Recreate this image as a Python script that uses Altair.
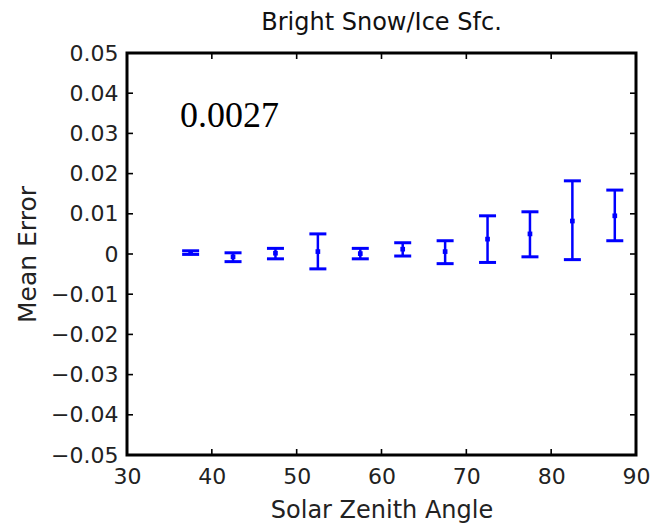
import altair as alt
import pandas as pd

# ---- data ----
sza = [37.5, 42.5, 47.5, 52.5, 57.5, 62.5, 67.5, 72.5, 77.5, 82.5, 87.5]
mean_err = [0.0003, -0.0007, 0.0002, 0.0006, 0.0001, 0.0012, 0.0006, 0.0037, 0.0050, 0.0082, 0.0095]
lower = [-0.0001, -0.0019, -0.0012, -0.0037, -0.0012, -0.0005, -0.0024, -0.0021, -0.0007, -0.0014, 0.0033]
upper = [0.0008, 0.0003, 0.0014, 0.0050, 0.0014, 0.0028, 0.0033, 0.0095, 0.0105, 0.0182, 0.0159]

x_ticks = [30, 40, 50, 60, 70, 80, 90]
y_ticks = [-0.05, -0.04, -0.03, -0.02, -0.01, 0.0, 0.01, 0.02, 0.03, 0.04, 0.05]

annot_text = ["0.0027"]
annot_x = [36.25]
annot_y = [0.0316]

W, H = 509, 402
BLUE = "#0000FF"
SANS = "DejaVu Sans"

df = pd.DataFrame({"sza": sza, "mean": mean_err, "lo": lower, "hi": upper})
xt = pd.DataFrame({"v": x_ticks})
yt = pd.DataFrame({"v": y_ticks})
ann = pd.DataFrame({"t": annot_text, "x": annot_x, "y": annot_y})

xscale = alt.Scale(domain=[30, 90], nice=False, zero=False)
yscale = alt.Scale(domain=[-0.05, 0.05], nice=False, zero=False)

xaxis = alt.Axis(values=x_ticks, format="d", ticks=False, domain=False, grid=False,
                 labelPadding=11, labelFontSize=22, labelFont=SANS, labelColor="#222",
                 title="Solar Zenith Angle", titleFontSize=24, titleFont=SANS,
                 titleFontWeight="normal", titleColor="#222", titlePadding=11,
                 labelFlush=False)
yaxis = alt.Axis(values=y_ticks, labelExpr="datum.value == 0 ? '0' : format(datum.value, '.2f')",
                 ticks=False, domain=False, grid=False,
                 labelPadding=9, labelFontSize=22, labelFont=SANS, labelColor="#222",
                 title="Mean Error", titleFontSize=25, titleFont=SANS,
                 titleFontWeight="normal", titleColor="#222", titlePadding=10,
                 labelFlush=False)

base = alt.Chart(df)

stems = base.mark_rule(color=BLUE, strokeWidth=2.5, opacity=1).encode(
    x=alt.X("sza:Q", scale=xscale, axis=xaxis),
    y=alt.Y("lo:Q", scale=yscale, axis=yaxis),
    y2="hi:Q",
)
cap_lo = base.mark_tick(color=BLUE, orient="horizontal", size=17, thickness=3, opacity=1).encode(
    x="sza:Q", y="lo:Q")
cap_hi = base.mark_tick(color=BLUE, orient="horizontal", size=17, thickness=3, opacity=1).encode(
    x="sza:Q", y="hi:Q")
pts = base.mark_square(color=BLUE, size=22, opacity=1, filled=True).encode(x="sza:Q", y="mean:Q")

TL = 6
tick_style = dict(color="black", strokeWidth=1.6, opacity=1)
yl = alt.Chart(yt).mark_rule(**tick_style).encode(y="v:Q", x=alt.value(0), x2=alt.value(TL))
yr = alt.Chart(yt).mark_rule(**tick_style).encode(y="v:Q", x=alt.value(W - TL), x2=alt.value(W))
xb = alt.Chart(xt).mark_rule(**tick_style).encode(x="v:Q", y=alt.value(H - TL), y2=alt.value(H))
xtp = alt.Chart(xt).mark_rule(**tick_style).encode(x="v:Q", y=alt.value(0), y2=alt.value(TL))

txt = alt.Chart(ann).mark_text(font="Liberation Serif", fontSize=36, align="left",
                               baseline="alphabetic", color="black").encode(
    x="x:Q", y="y:Q", text="t:N")

chart = alt.layer(stems, cap_lo, cap_hi, pts, yl, yr, xb, xtp, txt).properties(
    width=W, height=H,
    background="white",
    title=alt.TitleParams("Bright Snow/Ice Sfc.", fontSize=24, font=SANS,
                          fontWeight="normal", color="#111", offset=7),
    autosize=alt.AutoSizeParams(type="none"),
    padding={"left": 127, "top": 53, "right": 18, "bottom": 71},
).configure_view(stroke="black", strokeWidth=3)

chart.save("out.html", embed_options={"renderer": "svg", "actions": False})
